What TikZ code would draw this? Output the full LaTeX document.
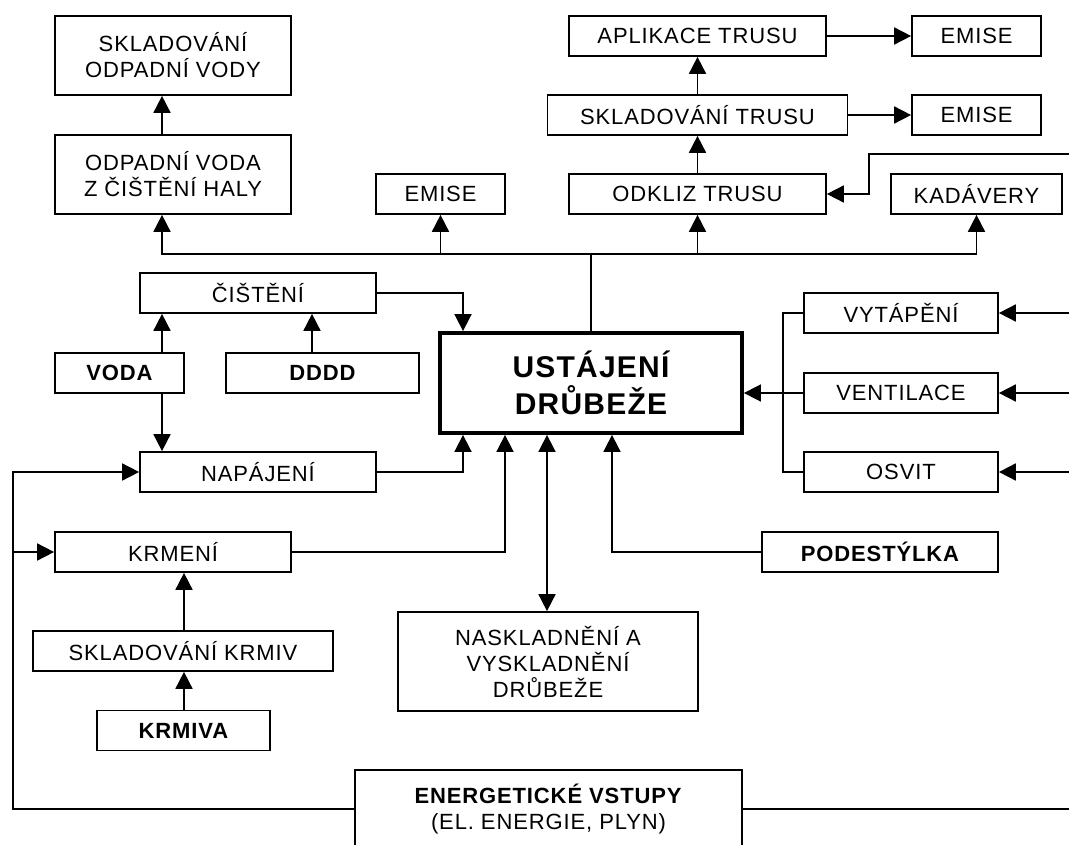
\documentclass[tikz,border=0pt]{standalone}
\usepackage{fontspec}
\setmainfont{Liberation Sans}[LetterSpace=4]
\usetikzlibrary{arrows.meta}
\tikzset{
  bx/.style={draw, line width=1.7pt, inner sep=0pt, align=center, font=\fontsize{22}{26}\selectfont},
  mainbx/.style={draw, line width=3.8pt, inner sep=0pt, align=center, font=\fontsize{30}{37.5}\selectfont\bfseries},
  ln/.style={line width=1.7pt},
  arr/.style={line width=1.7pt, -{Triangle[length=17pt,width=17pt]}},
  darr/.style={line width=1.7pt, {Triangle[length=17pt,width=17pt]}-{Triangle[length=17pt,width=17pt]}}
}
\begin{document}
\begin{tikzpicture}[x=1pt,y=-1pt]
\useasboundingbox (0,0) rectangle (1069,845);
\clip (0,0) rectangle (1069,845);
% column / helper coordinates
\coordinate (c162) at (162,0);
\coordinate (c312) at (312,0);
\coordinate (c184) at (184,0);
\coordinate (c463) at (463,0);
\coordinate (c505) at (505,0);
\coordinate (c547) at (547,0);
\coordinate (c612) at (612,0);
\coordinate (c783) at (783,0);
\coordinate (lft) at (13,0);
\coordinate (rgt) at (1080,0);
\coordinate (bus) at (591,254);
\coordinate (k1) at (869,154);

% nodes
\node[bx, minimum width=236, minimum height=79] (sov) at (173,55.5) {SKLADOVÁNÍ\\ODPADNÍ VODY};
\node[bx, minimum width=236, minimum height=79] (ov) at (173,174.5) {ODPADNÍ VODA\\Z ČIŠTĚNÍ HALY};
\node[bx, minimum width=129, minimum height=40] (em1) at (440.5,194) {EMISE};
\node[bx, minimum width=257, minimum height=40] (apl) at (697.5,36) {APLIKACE TRUSU};
\node[bx, minimum width=129, minimum height=40] (emA) at (976.5,36) {EMISE};
\node[bx, minimum width=300, minimum height=40] (skt) at (697.5,115) {SKLADOVÁNÍ TRUSU};
\node[bx, minimum width=129, minimum height=40] (emB) at (976.5,115) {EMISE};
\node[bx, minimum width=257, minimum height=40] (odk) at (697.5,194) {ODKLIZ TRUSU};
\node[bx, minimum width=171, minimum height=40] (kad) at (976.5,194) {KADÁVERY};
\node[bx, minimum width=236, minimum height=40] (cis) at (258,293) {ČIŠTĚNÍ};
\node[bx, minimum width=129, minimum height=40, font=\fontsize{22}{26}\selectfont\bfseries] (voda) at (119.5,373) {VODA};
\node[bx, minimum width=193, minimum height=40, font=\fontsize{22}{26}\selectfont\bfseries] (dddd) at (322.5,373) {DDDD};
\node[mainbx, minimum width=302, minimum height=100] (main) at (591,383) {USTÁJENÍ\\DRŮBEŽE};
\node[bx, minimum width=236, minimum height=40] (nap) at (258,472) {NAPÁJENÍ};
\node[bx, minimum width=236, minimum height=40] (krm) at (173,552) {KRMENÍ};
\node[bx, minimum width=300, minimum height=40] (skk) at (183,651) {SKLADOVÁNÍ KRMIV};
\node[bx, minimum width=173, minimum height=40, font=\fontsize{22}{26}\selectfont\bfseries] (krv) at (183.5,730.5) {KRMIVA};
\node[bx, minimum width=300, minimum height=99] (nask) at (548,661.5) {NASKLADNĚNÍ A\\VYSKLADNĚNÍ\\DRŮBEŽE};
\node[bx, minimum width=387, minimum height=78] (ener) at (548.5,809) {\textbf{ENERGETICKÉ VSTUPY}\\(EL. ENERGIE, PLYN)};
\node[bx, minimum width=236, minimum height=40, font=\fontsize{22}{26}\selectfont\bfseries] (pod) at (880,552) {PODESTÝLKA};
\node[bx, minimum width=194, minimum height=40] (vyt) at (901,313) {VYTÁPĚNÍ};
\node[bx, minimum width=194, minimum height=40] (ven) at (901,393) {VENTILACE};
\node[bx, minimum width=194, minimum height=40] (osv) at (901,472) {OSVIT};

% top part
\draw[arr] (ov.north -| c162) -- (sov.south -| c162);
\draw[ln] (main.north) -- (bus);
\draw[arr] (bus) -| (ov.south -| c162);
\draw[arr] (bus) -| (em1.south);
\draw[arr] (bus) -| (odk.south);
\draw[arr] (bus) -| (kad.south);
\draw[arr] (odk.north) -- (skt.south);
\draw[arr] (skt.north) -- (apl.south);
\draw[arr] (apl.east) -- (emA.west);
\draw[arr] (skt.east) -- (emB.west);
\draw[arr] (k1 -| rgt) -- (k1) |- (odk.east);

% left inputs
\draw[arr] (voda.north -| c162) -- (cis.south -| c162);
\draw[arr] (dddd.north -| c312) -- (cis.south -| c312);
\draw[arr] (cis.east) -| (main.north -| c463);
\draw[arr] (voda.south -| c162) -- (nap.north -| c162);
\draw[arr] (nap.east) -| (main.south -| c463);
\draw[arr] (krm.east) -| (main.south -| c505);
\draw[arr] (skk.north -| c184) -- (krm.south -| c184);
\draw[arr] (krv.north -| c184) -- (skk.south -| c184);
\draw[arr] (ener.west) -- (ener.west -| lft) |- (nap.west);
\draw[arr] (krm.west -| lft) -- (krm.west);
\draw[ln] (ener.east) -- (ener.east -| rgt);

% bottom
\draw[darr] (main.south -| c547) -- (nask.north -| c547);
\draw[arr] (pod.west) -| (main.south -| c612);

% right inputs
\draw[arr] (vyt.east -| rgt) -- (vyt.east);
\draw[arr] (ven.east -| rgt) -- (ven.east);
\draw[arr] (osv.east -| rgt) -- (osv.east);
\draw[ln] (vyt.west) -| (c783 |- osv.west) -- (osv.west);
\draw[arr] (ven.west) -- (ven.west -| main.east);
\end{tikzpicture}
\end{document}
